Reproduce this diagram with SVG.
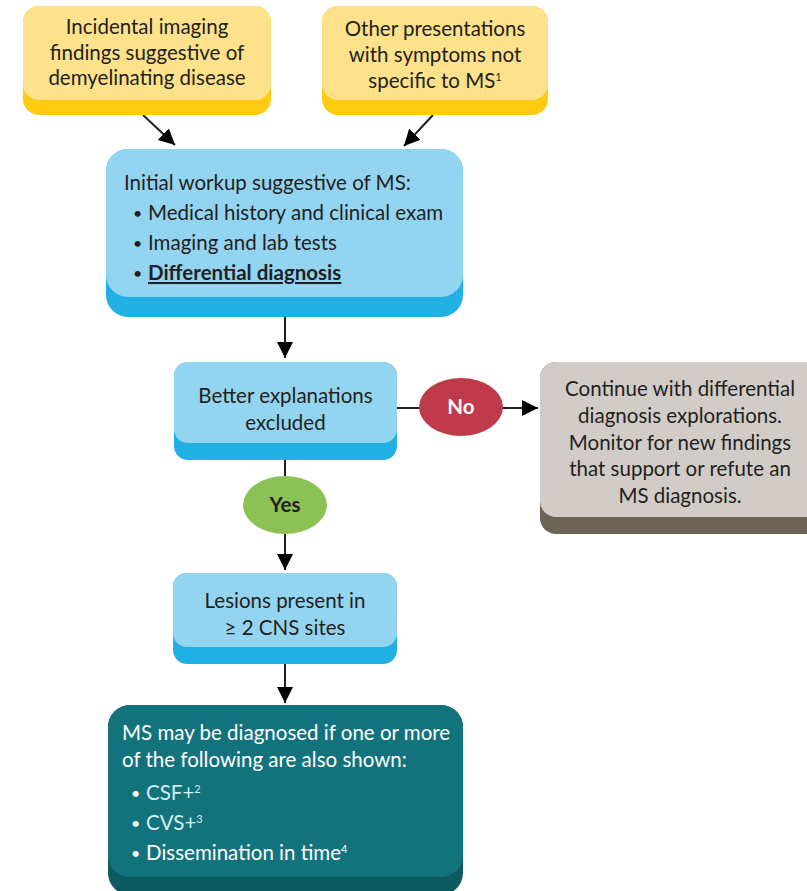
<svg xmlns="http://www.w3.org/2000/svg" width="807" height="891" viewBox="0 0 807 891">
<defs>
<style>
.t{font-family:Lato,"Open Sans","Liberation Sans",sans-serif;font-size:20.5px;fill:#231f20}
.c{text-anchor:middle}
.w{fill:#ffffff}
.lb{fill:#d3edf1}
.b{font-weight:700}
.bul{font-size:16px}
.sup{font-size:11px}
.ln{stroke:#231f20;stroke-width:2;fill:none}
</style>
<marker id="ah" markerUnits="userSpaceOnUse" markerWidth="18" markerHeight="18" viewBox="0 0 18 18" refX="16" refY="9" orient="auto">
<path d="M0,1 L16,9 L0,17 Z" fill="#000"/>
</marker>
</defs>
<rect width="807" height="891" fill="#ffffff"/>

<g id="connectors">
<line class="ln" x1="143" y1="115" x2="175" y2="145" marker-end="url(#ah)"/>
<line class="ln" x1="433" y1="115" x2="404" y2="146" marker-end="url(#ah)"/>
<line class="ln" x1="285" y1="317" x2="285" y2="358" marker-end="url(#ah)"/>
<line class="ln" x1="397" y1="408" x2="420" y2="408"/>
<line class="ln" x1="502" y1="408" x2="538" y2="408" marker-end="url(#ah)"/>
<line class="ln" x1="285" y1="460" x2="285" y2="477"/>
<line class="ln" x1="285" y1="533" x2="285" y2="570" marker-end="url(#ah)"/>
<line class="ln" x1="285" y1="664" x2="285" y2="703" marker-end="url(#ah)"/>
</g>

<g id="node-incidental">
<rect x="23" y="6" width="248" height="109" rx="16" fill="#ffcb12"/>
<rect x="23" y="6" width="248" height="94" rx="16" fill="#fde18b"/>
<text class="t c" x="147" y="34">Incidental imaging</text>
<text class="t c" x="147" y="60">findings suggestive of</text>
<text class="t c" x="147" y="85">demyelinating disease</text>
</g>

<g id="node-other">
<rect x="322" y="6" width="226" height="109" rx="16" fill="#ffcb12"/>
<rect x="322" y="6" width="226" height="94" rx="16" fill="#fde18b"/>
<text class="t c" x="435" y="36">Other presentations</text>
<text class="t c" x="435" y="62">with symptoms not</text>
<text class="t c" x="435" y="88">specific to MS<tspan class="sup" dy="-7">1</tspan></text>
</g>

<g id="node-workup">
<rect x="106" y="149" width="357" height="168" rx="22" fill="#21b0e3"/>
<rect x="106" y="149" width="357" height="148" rx="22" fill="#93d4f1"/>
<text class="t" x="124" y="190">Initial workup suggestive of MS:</text>
<text class="t bul" x="133" y="219">•</text>
<text class="t" x="148" y="220">Medical history and clinical exam</text>
<text class="t bul" x="133" y="249">•</text>
<text class="t" x="148" y="250">Imaging and lab tests</text>
<text class="t bul" x="133" y="279">•</text>
<text class="t b" x="148" y="280" text-decoration="underline">Differential diagnosis</text>
</g>

<g id="node-better">
<rect x="174" y="362" width="223" height="98" rx="14" fill="#21b0e3"/>
<rect x="174" y="362" width="223" height="81" rx="14" fill="#93d4f1"/>
<text class="t c" x="285.5" y="403">Better explanations</text>
<text class="t c" x="285.5" y="430">excluded</text>
</g>

<g id="node-no">
<ellipse cx="461" cy="407" rx="42" ry="29" fill="#bf3a4b"/>
<text class="t c w b" x="461" y="414">No</text>
</g>

<g id="node-continue">
<rect x="540" y="362" width="290" height="172" rx="16" fill="#6b6258"/>
<rect x="540" y="362" width="290" height="155" rx="16" fill="#d1ccc8"/>
<text class="t c" x="680" y="396">Continue with differential</text>
<text class="t c" x="680" y="423">diagnosis explorations.</text>
<text class="t c" x="680" y="450">Monitor for new findings</text>
<text class="t c" x="680" y="476">that support or refute an</text>
<text class="t c" x="680" y="503">MS diagnosis.</text>
</g>

<g id="node-yes">
<ellipse cx="285" cy="505" rx="42" ry="29" fill="#8bc155"/>
<text class="t c b" x="285" y="512">Yes</text>
</g>

<g id="node-lesions">
<rect x="173" y="573" width="224" height="91" rx="14" fill="#21b0e3"/>
<rect x="173" y="573" width="224" height="74" rx="14" fill="#93d4f1"/>
<text class="t c" x="285" y="608">Lesions present in</text>
<text class="t c" x="285" y="635">≥ 2 CNS sites</text>
</g>

<g id="node-diagnosed">
<rect x="108" y="705" width="355" height="190" rx="22" fill="#0d5a61"/>
<rect x="108" y="705" width="355" height="172" rx="22" fill="#13737d"/>
<text class="t w" x="122" y="740">MS may be diagnosed if one or more</text>
<text class="t w" x="122" y="767">of the following are also shown:</text>
<text class="t w bul" x="131" y="799">•</text>
<text class="t lb" x="146" y="800">CSF+<tspan class="sup" dy="-7">2</tspan></text>
<text class="t w bul" x="131" y="829">•</text>
<text class="t lb" x="146" y="830">CVS+<tspan class="sup" dy="-7">3</tspan></text>
<text class="t w bul" x="131" y="859">•</text>
<text class="t w" x="146" y="860">Dissemination in time<tspan class="sup" dy="-7">4</tspan></text>
</g>
</svg>
